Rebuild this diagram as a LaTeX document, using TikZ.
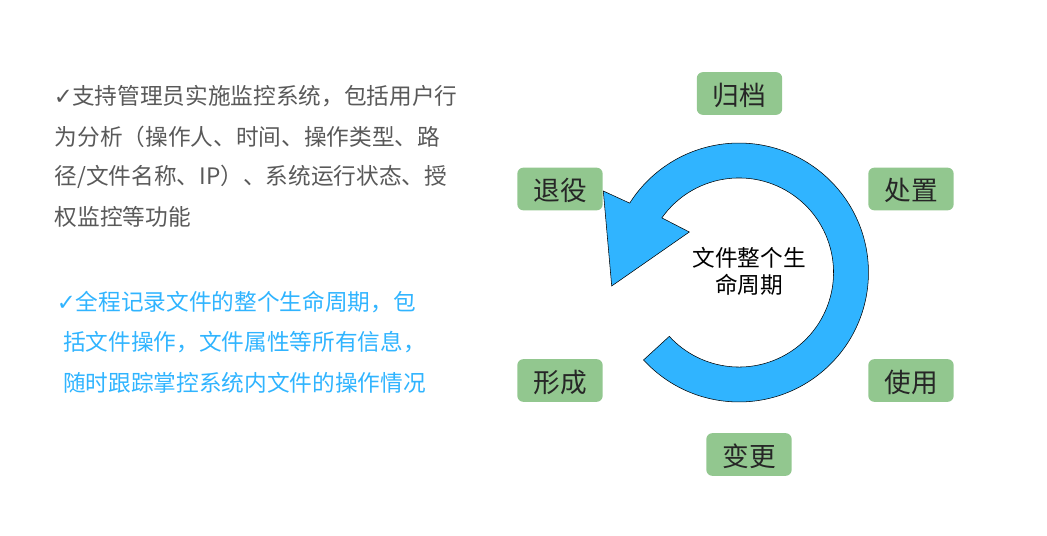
\documentclass[tikz,border=0pt]{standalone}
\usepackage{fontspec}
\usetikzlibrary{calc}
\setmainfont{Noto Sans CJK SC}
\newfontfamily\tickfont{DejaVu Sans}
\definecolor{stagegreen}{HTML}{92C78F}
\definecolor{cycleblue}{HTML}{30B4FF}
\definecolor{notegray}{HTML}{595959}
\newcommand{\tickmark}[1]{\makebox[#1][l]{\kern-1pt{\tickfont ✓}}}
\tikzset{
  stagebox/.style={fill=stagegreen,rounded corners=4.5pt,minimum width=64pt,minimum height=32pt,inner sep=0pt,text=black!85,text height=18pt,text depth=0.4pt,font=\fontsize{20}{24}\selectfont},
  noteline/.style={anchor=west,inner sep=0pt,font=\fontsize{17}{20}\selectfont},
  grayline/.style={noteline,text=notegray},
  blueline/.style={noteline,text=cycleblue}
}
\begin{document}
\begin{tikzpicture}[x=0.75pt,y=0.75pt]
  \useasboundingbox (0,0) rectangle (1047,536);
  \coordinate (hub) at (739,263.5);
  % cycle arrow
  \draw[fill=cycleblue,draw=black,line width=0.4pt]
  (hub) ++(222.5:97.1pt) arc[radius=97.1pt,start angle=222.5,end angle=507.6]
  -- (603.3,345) -- (611.7,250) -- (689.3,304)
  -- ($(hub)+(144.7:70.9pt)$) arc[radius=70.9pt,start angle=504.7,end angle=222.5] -- cycle;
  \node[align=center,font=\fontsize{17}{20.2}\selectfont,text=black,inner sep=0pt] (life) at (749,264.5) {文件整个生\\命周期};
  % stages
  \node[stagebox] (archive) at (739.5,442.5) {归档};
  \node[stagebox] (retire) at (560,347) {退役};
  \node[stagebox] (handle) at (911,347) {处置};
  \node[stagebox] (form) at (560,155.5) {形成};
  \node[stagebox] (usage) at (911,155.5) {使用};
  \node[stagebox] (change) at (749,81.5) {变更};
  % notes
  \node[grayline] (graya) at (55,440) {\tickmark{12.75pt}支持管理员实施监控系统，包括用户行};
  \node[grayline] (grayb) at (54.5,399.5) {为分析（操作人、时间、操作类型、路};
  \node[grayline] (grayc) at (54.5,359) {径/文件名称、IP）、系统运行状态、授};
  \node[grayline] (grayd) at (54.5,319) {权监控等功能};
  \node[blueline] (bluea) at (58,234) {\tickmark{13.2pt}全程记录文件的整个生命周期，包};
  \node[blueline] (blueb) at (63,194) {括文件操作，文件属性等所有信息，};
  \node[blueline] (bluec) at (63,153) {随时跟踪掌控系统内文件的操作情况};
\end{tikzpicture}
\end{document}
